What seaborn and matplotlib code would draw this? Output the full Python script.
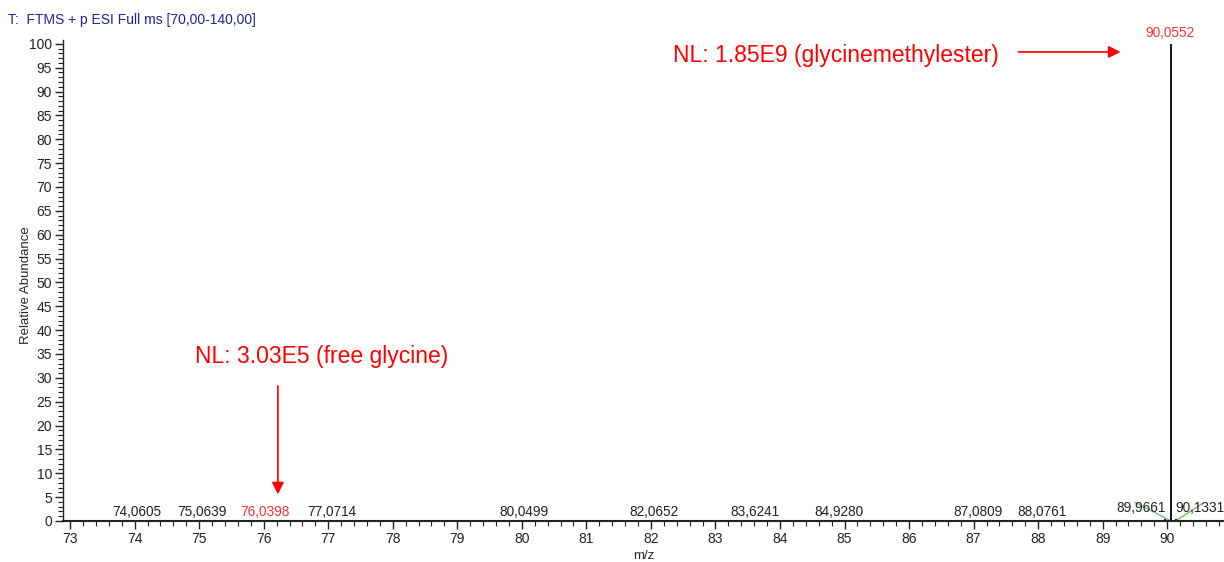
import matplotlib
matplotlib.use("Agg")
import matplotlib.pyplot as plt
import seaborn as sns
import numpy as np
from matplotlib.ticker import MultipleLocator

sns.set_style("ticks")
plt.rcParams['font.family'] = ['Liberation Sans', 'DejaVu Sans']

# Data
peak_mz = [74.0605, 75.0639, 76.0398, 77.0714, 80.0499, 82.0652, 83.6241,
           84.9280, 87.0809, 88.0761, 89.9661, 90.0552, 90.1331]
peak_int = [0.3, 0.2, 0.02, 0.2, 0.2, 0.2, 0.15, 0.15, 0.2, 0.2, 0.4, 100.0, 0.5]
peak_labels = ["74,0605", "75,0639", "76,0398", "77,0714", "80,0499", "82,0652",
               "83,6241", "84,9280", "87,0809", "88,0761", "89,9661", "90,0552", "90,1331"]
label_colors = ["#222222", "#222222", "#ff3030", "#222222", "#222222", "#222222",
                "#222222", "#222222", "#222222", "#222222", "#222222", "#ff3030", "#222222"]
x_ticks = list(range(73, 91))
y_ticks = list(range(0, 101, 5))

fig = plt.figure(figsize=(12.24, 5.62), dpi=100)
ax = fig.add_axes([63/1224, 1-521/562, 1-63/1224, (521-40)/562])

ax.vlines(peak_mz, 0, peak_int, color="black", lw=1.3)

# labels
fs_lab = 9.8
for mz, h, lab, c in zip(peak_mz, peak_int, peak_labels, label_colors):
    if h > 50:
        ax.text(mz - 0.02, 102.2, lab, color=c, ha="center", va="center", fontsize=fs_lab)
    elif lab == "89,9661":
        ax.text(89.59, 1.2, lab, color=c, ha="center", va="bottom", fontsize=fs_lab)
    elif lab == "90,1331":
        ax.text(90.12, 1.2, lab, color=c, ha="left", va="bottom", fontsize=fs_lab)
    else:
        ax.text(mz - 0.02, 0.5, lab, color=c, ha="center", va="bottom", fontsize=fs_lab)

# green connector lines
ax.plot([89.50, 90.05], [3.9, 0.1], color="#7cc47c", lw=1.1, zorder=1)
ax.plot([90.15, 90.55], [0.2, 3.7], color="#7cc47c", lw=1.1, zorder=1)

ax.set_xlim(72.89, 90.88)
ax.set_ylim(0, 100.8)
ax.set_xticks(x_ticks)
ax.set_yticks(y_ticks)
ax.xaxis.set_minor_locator(MultipleLocator(0.2))
ax.yaxis.set_minor_locator(MultipleLocator(1))
ax.tick_params(axis="both", which="major", length=6, width=1, labelsize=10, colors="#222222", pad=2)
ax.tick_params(axis="both", which="minor", length=3.5, width=0.8, colors="#222222")
sns.despine(ax=ax, top=True, right=True)
ax.spines["left"].set_linewidth(1)
ax.spines["bottom"].set_linewidth(1.5)
ax.spines["left"].set_color("#222222")
ax.spines["bottom"].set_color("#222222")

ax.set_xlabel("m/z", fontsize=9.5, labelpad=3)
ax.set_ylabel("Relative Abundance", fontsize=9.5)
ax.yaxis.set_label_coords(-0.027, 0.49)

fig.text(8/1224, 1-20/562, "T:  FTMS + p ESI Full ms [70,00-140,00]", color="#22229a",
         fontsize=10, va="center", ha="left")

# annotations
ax.annotate("", xy=(89.32, 98.3), xytext=(87.65, 98.3),
            arrowprops=dict(arrowstyle="-|>", color="red", lw=1.2, mutation_scale=18))
ax.text(84.86, 97.6, "NL: 1.85E9 (glycinemethylester)", color="red", fontsize=16.5,
        ha="center", va="center")
ax.annotate("", xy=(76.22, 5.0), xytext=(76.22, 28.9),
            arrowprops=dict(arrowstyle="-|>", color="red", lw=1.2, mutation_scale=18))
ax.text(76.89, 34.4, "NL: 3.03E5 (free glycine)", color="red", fontsize=16.5,
        ha="center", va="center")

fig.savefig("out.png", dpi=100)
